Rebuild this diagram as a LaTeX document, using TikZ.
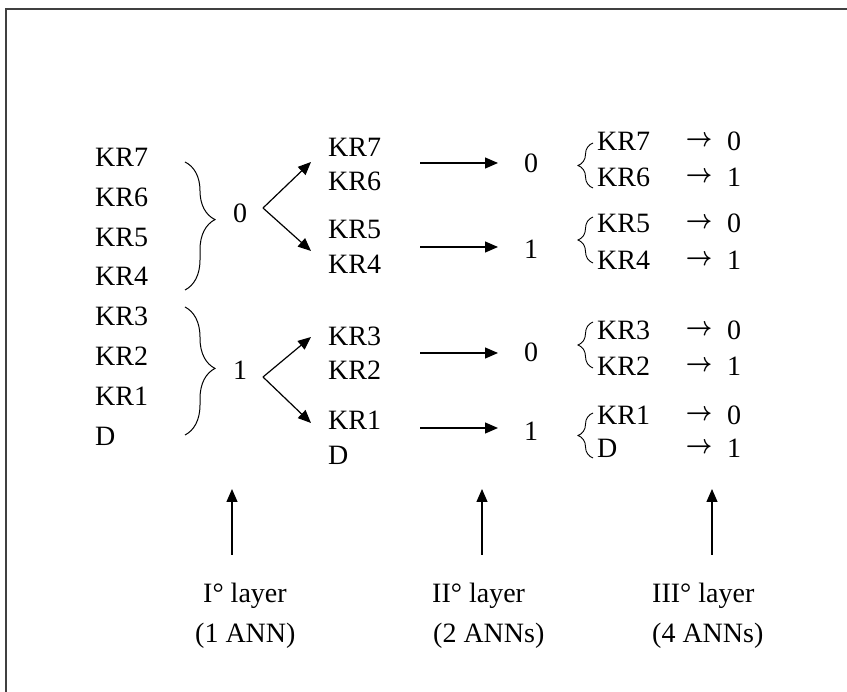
\documentclass[tikz,border=0pt]{standalone}
\usepackage{fontspec}
\setmainfont{Liberation Serif}
\usetikzlibrary{arrows.meta,decorations.pathreplacing}
\begin{document}
\begin{tikzpicture}[x=1pt,y=-1pt,
 lbl/.style={anchor=base west,inner sep=0pt,font=\fontsize{28}{34}\selectfont},
 dig/.style={anchor=center,inner sep=0pt,font=\fontsize{28}{34}\selectfont},
 sarrow/.style={anchor=center,inner sep=0pt},
 arr/.style={line width=1.2pt,-{Triangle[length=13pt,width=11pt]}},
 bigbrace/.style={decorate,decoration={brace,amplitude=30pt,aspect=#1},line width=1pt},
 smallbrace/.style={decorate,decoration={brace,amplitude=15pt,aspect=0.5},line width=0.9pt},
 frameline/.style={line width=1.6pt,black!75}]
\useasboundingbox (0,0) rectangle (847,692);
\draw[frameline] (6,692) -- (6,9) -- (847,9);

% column 1
\node[lbl] (a7) at (95,167) {KR7};
\node[lbl] (a6) at (95,207) {KR6};
\node[lbl] (a5) at (95,247) {KR5};
\node[lbl] (a4) at (95,286) {KR4};
\node[lbl] (a3) at (95,326) {KR3};
\node[lbl] (a2) at (95,366) {KR2};
\node[lbl] (a1) at (95,406) {KR1};
\node[lbl] (a0) at (95,446) {D};

\draw[bigbrace=0.45] (185,162) -- (185,290);
\draw[bigbrace=0.48] (185,307) -- (185,435);

\node[dig] (z0) at (240,213) {0};
\node[dig] (z1) at (240,370) {1};

\coordinate (v0) at (263,208);
\coordinate (v1) at (263,377);
\coordinate (t7) at (311,162);
\coordinate (t5) at (311,251);
\coordinate (t3) at (311,337);
\coordinate (t1) at (311,423);
\draw[arr] (v0) -- (t7);
\draw[arr] (v0) -- (t5);
\draw[arr] (v1) -- (t3);
\draw[arr] (v1) -- (t1);

% column 2
\node[lbl] (b7) at (328,157) {KR7};
\node[lbl] (b6) at (328,191) {KR6};
\node[lbl] (b5) at (328,239) {KR5};
\node[lbl] (b4) at (328,274) {KR4};
\node[lbl] (b3) at (328,346) {KR3};
\node[lbl] (b2) at (328,380) {KR2};
\node[lbl] (b1) at (328,430) {KR1};
\node[lbl] (b0) at (328,465) {D};

% column 3 digits
\node[dig] (c0) at (531,163) {0};
\node[dig] (c1) at (531,249) {1};
\node[dig] (c2) at (531,352) {0};
\node[dig] (c3) at (531,431) {1};

\coordinate (h0s) at (420,163);
\coordinate (h1s) at (420,247);
\coordinate (h2s) at (420,353);
\coordinate (h3s) at (420,428);
\coordinate (h0e) at (498,163);
\coordinate (h1e) at (498,247);
\coordinate (h2e) at (498,353);
\coordinate (h3e) at (498,428);
\draw[arr] (h0s) -- (h0e);
\draw[arr] (h1s) -- (h1e);
\draw[arr] (h2s) -- (h2e);
\draw[arr] (h3s) -- (h3e);

% small braces
\draw[smallbrace] (593,188) -- (593,143);
\draw[smallbrace] (593,263) -- (593,217);
\draw[smallbrace] (593,368) -- (593,322);
\draw[smallbrace] (593,458) -- (593,413);

% column 4
\node[lbl] (d7) at (597,151) {KR7};
\node[lbl] (d6) at (597,187) {KR6};
\node[lbl] (d5) at (597,233) {KR5};
\node[lbl] (d4) at (597,270) {KR4};
\node[lbl] (d3) at (597,340) {KR3};
\node[lbl] (d2) at (597,376) {KR2};
\node[lbl] (d1) at (597,425) {KR1};
\node[lbl] (d0) at (597,458) {D};

\foreach \n/\y/\v in {7/141/0,6/177/1,5/223/0,4/260/1,3/330/0,2/366/1,1/415/0,0/448/1}{
  \node[sarrow] (r\n) at (699,\y) {\scalebox{2.3}[2.7]{\boldmath$\rightarrow$}};
  \node[dig] (o\n) at (734,\y) {\v};
}

% vertical arrows
\coordinate (u1s) at (232,555);
\coordinate (u1e) at (232,489);
\coordinate (u2s) at (482,555);
\coordinate (u2e) at (482,489);
\coordinate (u3s) at (712,555);
\coordinate (u3e) at (712,489);
\draw[arr] (u1s) -- (u1e);
\draw[arr] (u2s) -- (u2e);
\draw[arr] (u3s) -- (u3e);

% layer labels
\node[lbl] (l1a) at (203,603) {I° layer};
\node[lbl] (l1b) at (195,642) {(1 ANN)};
\node[lbl] (l2a) at (432,603) {II° layer};
\node[lbl] (l2b) at (433,642) {(2 ANNs)};
\node[lbl] (l3a) at (652,603) {III° layer};
\node[lbl] (l3b) at (652,642) {(4 ANNs)};
\end{tikzpicture}
\end{document}
